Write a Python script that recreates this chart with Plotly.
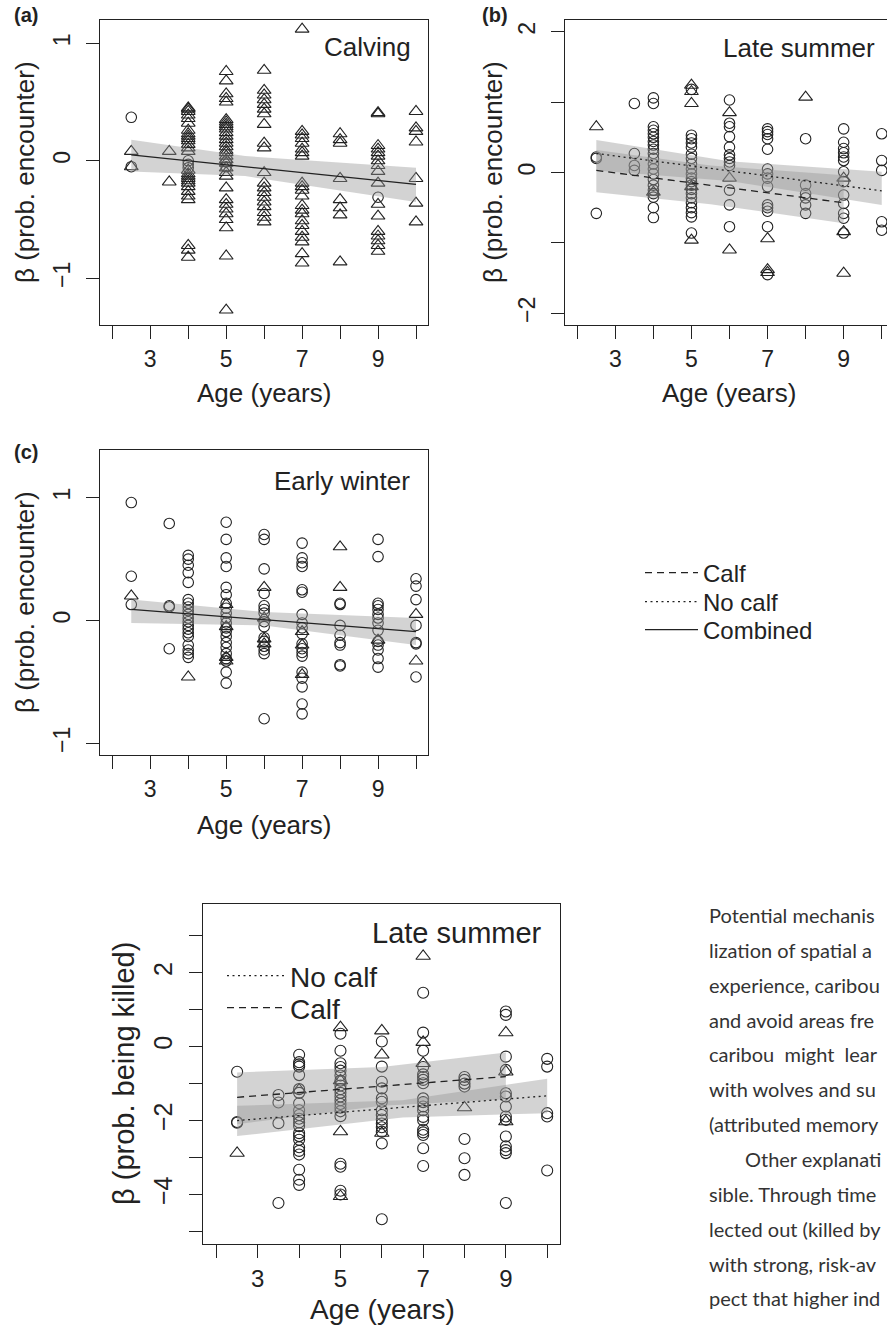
import plotly.graph_objects as go

FONT = "Liberation Sans, Arial, Helvetica, sans-serif"
INK = "#222222"
W, H = 887, 1327

# ---------------- data ----------------
TICK_AGES = [2, 3, 4, 5, 6, 7, 8, 9, 10]
TICK_TEXT = ["", "3", "", "5", "", "7", "", "9", ""]

# (a) Calving : beta (prob. encounter) by age; triangles = calf, circles = no calf
a_tri = {
    2.5: [0.08, -0.05],
    3.5: [0.08, -0.18],
    4: [0.45, 0.44, 0.42, 0.39, 0.36, 0.32, 0.26, 0.23, 0.21, 0.19, 0.17, 0.14, 0.11, 0.08,
        -0.08, -0.11, -0.13, -0.15, -0.17, -0.19, -0.22, -0.26, -0.30, -0.33, -0.72, -0.76, -0.82],
    5: [0.76, 0.68, 0.57, 0.53, 0.50, 0.35, 0.33, 0.31, 0.29, 0.27, 0.24, 0.21, 0.18, 0.15, 0.12,
        0.09, 0.07, 0.04, 0.01, -0.02, -0.06, -0.10, -0.13, -0.23, -0.33, -0.37, -0.41, -0.45,
        -0.50, -0.57, -0.81, -1.27],
    6: [0.77, 0.60, 0.56, 0.52, 0.48, 0.44, 0.40, 0.31, 0.15, 0.11, -0.10, -0.19, -0.23, -0.27,
        -0.31, -0.35, -0.39, -0.44, -0.48, -0.52],
    7: [1.12, 0.25, 0.22, 0.19, 0.15, 0.10, 0.07, 0.04, -0.19, -0.22, -0.25, -0.30, -0.38, -0.42,
        -0.45, -0.51, -0.55, -0.60, -0.65, -0.69, -0.79, -0.87],
    8: [0.23, 0.18, 0.15, -0.15, -0.33, -0.40, -0.46, -0.86],
    9: [0.41, 0.40, 0.13, 0.10, 0.07, 0.04, 0.0, -0.04, -0.09, -0.19, -0.37, -0.47, -0.60, -0.64,
        -0.68, -0.72, -0.77],
    10: [0.42, 0.28, 0.25, 0.16, -0.15, -0.36, -0.52],
}
a_circ = {2.5: [0.37, -0.05], 4: [0.0, -0.03, -0.06], 5: [-0.01, -0.05], 9: [-0.31]}
a_line_age = [2.5, 10]
a_line = [0.05, -0.20]
a_band_age = [2.5, 5.5, 10]
a_band_hi = [0.18, 0.04, -0.06]
a_band_lo = [-0.09, -0.13, -0.35]

# (b) Late summer : encounter
b_circ = {
    2.5: [0.22, 0.20, -0.58],
    3.5: [0.98, 0.27, 0.10, 0.03],
    4: [1.06, 0.98, 0.65, 0.60, 0.55, 0.50, 0.44, 0.39, 0.33, 0.27, 0.20, 0.12, 0.05, -0.02,
        -0.10, -0.18, -0.25, -0.30, -0.35, -0.50, -0.64],
    5: [1.18, 0.53, 0.48, 0.42, 0.36, 0.26, 0.20, 0.12, 0.05, -0.02, -0.08, -0.13, -0.18, -0.24,
        -0.30, -0.36, -0.43, -0.50, -0.57, -0.63, -0.86],
    6: [1.03, 0.70, 0.65, 0.51, 0.36, 0.25, 0.20, 0.15, 0.10, -0.25, -0.46, -0.77],
    7: [0.62, 0.58, 0.54, 0.48, 0.33, 0.05, -0.02, -0.08, -0.20, -0.46, -0.50, -0.55, -0.77, -1.45],
    8: [0.48, -0.18, -0.30, -0.36, -0.46, -0.58],
    9: [0.62, 0.43, 0.34, 0.28, 0.22, 0.17, 0.01, -0.13, -0.32, -0.44, -0.58, -0.65, -0.86],
    10: [0.55, 0.17, 0.03, -0.70, -0.82],
}
b_tri = {2.5: [0.65], 4: [-0.28], 5: [1.24, 1.15, 0.98, -0.20, -0.96], 6: [0.85, -0.08, -1.10],
         7: [-0.94, -1.38, -1.42], 8: [1.07], 9: [-0.08, -0.84, -1.43]}
b_nc_line_age = [2.5, 10]
b_nc_line = [0.27, -0.26]
b_c_line_age = [2.5, 9]
b_c_line = [0.03, -0.43]
b_nc_band_age = [2.5, 6, 10]
b_nc_band_hi = [0.46, 0.16, 0.01]
b_nc_band_lo = [0.03, -0.12, -0.46]
b_c_band_age = [2.5, 5.5, 9]
b_c_band_hi = [0.32, 0.10, -0.04]
b_c_band_lo = [-0.28, -0.45, -0.72]

# (c) Early winter : encounter
c_circ = {
    2.5: [0.96, 0.36, 0.13],
    3.5: [0.79, 0.12, 0.11, -0.23],
    4: [0.53, 0.50, 0.45, 0.39, 0.31, 0.17, 0.14, 0.11, 0.08, 0.05, 0.02, -0.01, -0.04, -0.07,
        -0.10, -0.13, -0.20, -0.24, -0.27, -0.30],
    5: [0.80, 0.66, 0.51, 0.44, 0.27, 0.21, 0.14, 0.10, 0.06, 0.02, -0.02, -0.06, -0.09, -0.13,
        -0.18, -0.22, -0.27, -0.31, -0.33, -0.42, -0.51],
    6: [0.70, 0.66, 0.42, 0.22, 0.12, 0.09, 0.06, -0.01, -0.05, -0.14, -0.17, -0.21, -0.24,
        -0.27, -0.80],
    7: [0.63, 0.51, 0.47, 0.44, 0.25, 0.23, 0.05, -0.02, -0.06, -0.11, -0.19, -0.23, -0.26,
        -0.29, -0.42, -0.47, -0.54, -0.68, -0.76],
    8: [0.14, 0.13, -0.04, -0.12, -0.18, -0.20, -0.36, -0.37],
    9: [0.66, 0.52, 0.14, 0.12, 0.09, 0.05, 0.02, -0.02, -0.08, -0.17, -0.20, -0.24, -0.31, -0.38],
    10: [0.34, 0.28, 0.17, -0.04, -0.18, -0.19, -0.46],
}
c_tri = {2.5: [0.20], 4: [-0.46], 5: [0.13, -0.05, -0.30, -0.33], 6: [0.27, 0.02, -0.15, -0.19],
         7: [-0.09, -0.20, -0.44], 8: [0.60, 0.27], 9: [-0.16], 10: [0.05, -0.33]}
c_line_age = [2.5, 10]
c_line = [0.09, -0.09]
c_band_age = [2.5, 6, 10]
c_band_hi = [0.17, 0.07, 0.02]
c_band_lo = [-0.02, -0.04, -0.20]

# (d) Late summer : beta (prob. being killed)
d_circ = {
    2.5: [-0.68, -2.04, -2.06],
    3.5: [-1.31, -1.51, -2.07, -4.23],
    4: [-0.22, -0.42, -0.48, -0.54, -0.77, -1.15, -1.25, -1.53, -1.72, -1.85, -1.95, -2.05,
        -2.15, -2.34, -2.42, -2.52, -2.72, -2.82, -2.92, -3.33, -3.60, -3.74],
    5: [0.35, -0.11, -0.45, -0.55, -0.65, -0.78, -0.92, -1.05, -1.15, -1.25, -1.35, -1.45,
        -1.55, -1.65, -1.75, -1.88, -3.17, -3.25, -3.90, -4.00],
    6: [0.14, -0.54, -0.95, -1.13, -1.40, -1.49, -1.72, -1.85, -1.97, -2.08, -2.18, -2.30,
        -2.62, -4.67],
    7: [1.46, 0.38, -0.11, -0.55, -0.75, -0.82, -0.90, -0.99, -1.40, -1.50, -1.62, -1.72,
        -1.90, -1.99, -2.25, -2.32, -2.39, -2.75, -3.23],
    8: [-0.82, -0.90, -1.00, -1.08, -2.50, -3.02, -3.47],
    9: [0.95, 0.86, -0.27, -0.63, -1.26, -1.35, -1.62, -1.89, -1.98, -2.43, -2.70, -2.80,
        -2.88, -4.23],
    10: [-0.33, -0.54, -1.80, -1.89, -3.35],
}
d_tri = {2.5: [-2.88], 4: [-1.17], 5: [0.52, -0.92, -2.30, -4.05], 6: [0.43, -0.22, -2.34],
         7: [2.45, 0.12, -0.45], 8: [-1.65], 9: [0.38, -0.68, -2.03]}
d_c_line_age = [2.5, 9]
d_c_line = [-1.37, -0.81]
d_nc_line_age = [2.5, 10]
d_nc_line = [-2.00, -1.33]
d_c_band_age = [2.5, 6, 9]
d_c_band_hi = [-0.70, -0.55, -0.16]
d_c_band_lo = [-2.10, -1.60, -1.42]
d_nc_band_age = [2.5, 6.5, 10]
d_nc_band_hi = [-1.60, -1.45, -0.87]
d_nc_band_lo = [-2.42, -1.92, -1.80]

NB = "\u00a0"
PARAGRAPH = [
    "Potential mechanis",
    "lization of spatial a",
    "experience, caribou",
    "and avoid areas fre",
    "caribou" + NB * 2 + "might" + NB * 2 + "lear",
    "with wolves and su",
    "(attributed memory",
    "Other explanati",
    "sible. Through time",
    "lected out (killed by",
    "with strong, risk-av",
    "pect that higher ind",
]
PARAGRAPH_INDENT = [0, 0, 0, 0, 0, 0, 0, 36, 0, 0, 0, 0]

# ---------------- helpers ----------------
def flat(d):
    xs, ys = [], []
    for age, vals in d.items():
        xs += [age] * len(vals)
        ys += vals
    return xs, ys

BAND_FILL = "rgba(150,150,150,0.42)"
DASH = "7px,5px"
DOT = "2px,3.5px"

fig = go.Figure()

def points(d, symbol, size, xa, ya):
    xs, ys = flat(d)
    fig.add_trace(go.Scatter(x=xs, y=ys, mode="markers", xaxis=xa, yaxis=ya, showlegend=False,
                             hoverinfo="skip",
                             marker=dict(symbol=symbol, size=size, color=INK,
                                         line=dict(color=INK, width=1.1))))

def band(age, hi, lo, xa, ya):
    fig.add_trace(go.Scatter(x=age + age[::-1], y=hi + lo[::-1], fill="toself", mode="lines",
                             line=dict(width=0), fillcolor=BAND_FILL, xaxis=xa, yaxis=ya,
                             showlegend=False, hoverinfo="skip"))

def line(age, vals, dash, xa, ya, name=None, legend=None, width=1.3):
    fig.add_trace(go.Scatter(x=age, y=vals, mode="lines", xaxis=xa, yaxis=ya,
                             line=dict(color=INK, width=width, dash=dash),
                             name=name, showlegend=name is not None,
                             legend=legend if legend else "legend", hoverinfo="skip"))

TRI, CIR = "triangle-up-open", "circle-open"
TS, CS = 12, 10.5

# (a)
points(a_tri, TRI, TS, "x", "y")
points(a_circ, CIR, CS, "x", "y")
band(a_band_age, a_band_hi, a_band_lo, "x", "y")
line(a_line_age, a_line, "solid", "x", "y", name="Combined", legend="legend3")
# (b)
points(b_circ, CIR, CS, "x2", "y2")
points(b_tri, TRI, TS, "x2", "y2")
band(b_nc_band_age, b_nc_band_hi, b_nc_band_lo, "x2", "y2")
band(b_c_band_age, b_c_band_hi, b_c_band_lo, "x2", "y2")
line(b_c_line_age, b_c_line, DASH, "x2", "y2", name="Calf", legend="legend")
line(b_nc_line_age, b_nc_line, DOT, "x2", "y2", name="No calf", legend="legend2")
# (c)
points(c_circ, CIR, CS, "x3", "y3")
points(c_tri, TRI, TS, "x3", "y3")
band(c_band_age, c_band_hi, c_band_lo, "x3", "y3")
line(c_line_age, c_line, "solid", "x3", "y3")
# (d)
points(d_circ, CIR, CS * 1.05, "x4", "y4")
points(d_tri, TRI, TS * 1.05, "x4", "y4")
band(d_nc_band_age, d_nc_band_hi, d_nc_band_lo, "x4", "y4")
band(d_c_band_age, d_c_band_hi, d_c_band_lo, "x4", "y4")
line(d_nc_line_age, d_nc_line, DOT, "x4", "y4", name="No calf", legend="legend4")
line(d_c_line_age, d_c_line, DASH, "x4", "y4", name="Calf", legend="legend5")


def px(x):
    return x / W


def py(y):
    return 1 - y / H


def xaxis(left, right, rng, anchor, fs, mirror=True):
    return dict(domain=[px(left), px(right)], range=rng, anchor=anchor, tickvals=TICK_AGES,
                ticktext=TICK_TEXT, ticks="outside", ticklen=13, tickwidth=1.2, tickcolor=INK,
                showline=True, linecolor=INK, linewidth=1.2, mirror=mirror, showgrid=False,
                zeroline=False, tickfont=dict(family=FONT, size=fs, color=INK), fixedrange=True)


def yaxis(top, bottom, rng, anchor, vals, text, fs, mirror=True):
    return dict(domain=[py(bottom), py(top)], range=rng, anchor=anchor, tickvals=vals,
                ticktext=text, ticks="outside", ticklen=13, tickwidth=1.2, tickcolor=INK,
                tickangle=-90, showline=True, linecolor=INK, linewidth=1.2, mirror=mirror,
                showgrid=False, zeroline=False, tickfont=dict(family=FONT, size=fs, color=INK),
                ticklabelstandoff=7, fixedrange=True)


def leg(x, y, fs, iw):
    return dict(x=px(x), y=py(y), xanchor="left", yanchor="middle", bgcolor="rgba(0,0,0,0)",
                borderwidth=0, font=dict(family=FONT, size=fs, color=INK), itemwidth=iw,
                tracegroupgap=0)


annotations = []


def text(x, y, s, size, xanchor="center", angle=0, family=FONT, color=INK):
    annotations.append(dict(x=px(x), y=py(y), xref="paper", yref="paper", text=s,
                            showarrow=False, xanchor=xanchor, yanchor="middle", textangle=angle,
                            font=dict(family=family, size=size, color=color)))


text(12, 15, "<b>(a)</b>", 20, xanchor="left")
text(480, 15, "<b>(b)</b>", 20, xanchor="left")
text(12, 452, "<b>(c)</b>", 20, xanchor="left")
text(413, 47, "Calving", 26, xanchor="right")
text(877, 48, "Late summer", 26, xanchor="right")
text(412, 481, "Early winter", 26, xanchor="right")
text(544, 933, "Late summer", 29, xanchor="right")
text(25, 172, "\u03b2 (prob. encounter)", 26, angle=-90)
text(493, 172, "\u03b2 (prob. encounter)", 26, angle=-90)
text(25, 602, "\u03b2 (prob. encounter)", 26, angle=-90)
text(124, 1074, "\u03b2 (prob. being killed)", 29, angle=-90)
text(264, 393, "Age (years)", 26)
text(729, 393, "Age (years)", 26)
text(264, 825, "Age (years)", 26)
text(382, 1309, "Age (years)", 28)
for i, s in enumerate(PARAGRAPH):
    text(707 + PARAGRAPH_INDENT[i], 915 + i * 34.85, s, 20, xanchor="left",
         family="Lato, sans-serif", color="#333333")

fig.update_layout(
    width=W, height=H, margin=dict(l=0, r=0, t=0, b=0), autosize=False,
    paper_bgcolor="white", plot_bgcolor="white",
    font=dict(family=FONT, color=INK),
    xaxis=xaxis(100, 428, [1.676, 10.316], "y", 23),
    yaxis=yaxis(20, 325, [-1.397, 1.198], "x", [-1, 0, 1], ["\u22121", "0", "1"], 23),
    xaxis2=xaxis(565, 887, [1.677, 10.139], "y2", 23),
    yaxis2=yaxis(20, 325, [-2.166, 2.166], "x2", [-2, -1, 0, 1, 2], ["\u22122", "", "0", "", "2"], 23, mirror=False),
    xaxis3=xaxis(100, 428, [1.676, 10.316], "y3", 23),
    yaxis3=yaxis(450, 755, [-1.095, 1.388], "x3", [-1, 0, 1], ["\u22121", "0", "1"], 23),
    xaxis4=xaxis(203, 560, [1.675, 10.31], "y4", 24),
    yaxis4=yaxis(904, 1244, [-5.34, 3.86], "x4", [-5, -4, -3, -2, -1, 0, 1, 2, 3],
                 ["", "\u22124", "", "\u22122", "", "0", "", "2", ""], 25),
    legend=leg(640, 573, 24, 53),
    legend2=leg(640, 602, 24, 53),
    legend3=leg(640, 630, 24, 53),
    legend4=leg(222, 976, 28, 58),
    legend5=leg(222, 1008, 28, 58),
    annotations=annotations,
    showlegend=True,
)

fig.write_html("out.html", config={"displayModeBar": False},
               post_script="document.body.style.margin='0px';")
